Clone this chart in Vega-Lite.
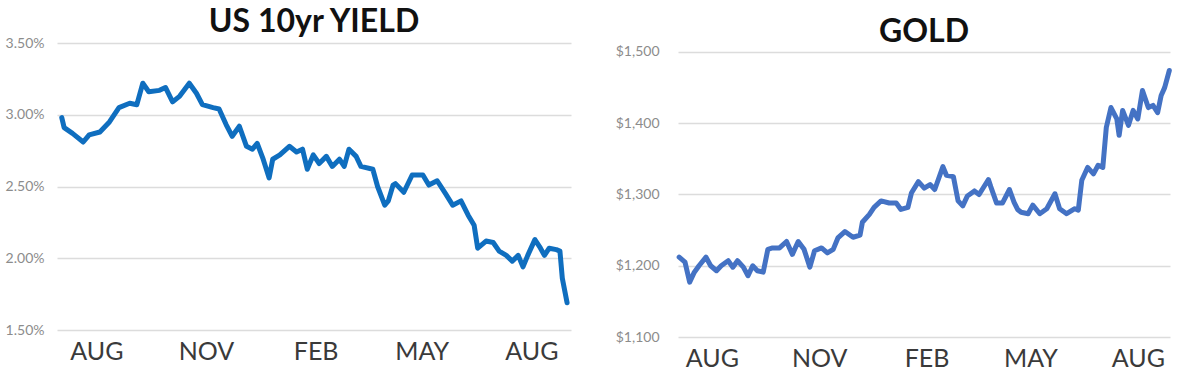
{
  "$schema": "https://vega.github.io/schema/vega-lite/v6.json",
  "background": "white",
  "padding": {"left": 5, "top": 6, "right": 10, "bottom": 5},
  "spacing": 44,
  "config": {
    "view": {"stroke": null},
    "title": {"font": "Lato", "fontWeight": "bold", "fontSize": 32, "color": "#111111", "anchor": "middle"},
    "axis": {"domain": false, "ticks": false, "title": null}
  },
  "datasets": {
    "yield": [
      {"date": "2018-07-03", "value": 2.98},
      {"date": "2018-07-05", "value": 2.91},
      {"date": "2018-07-12", "value": 2.87},
      {"date": "2018-07-21", "value": 2.81},
      {"date": "2018-07-26", "value": 2.86},
      {"date": "2018-08-04", "value": 2.88},
      {"date": "2018-08-12", "value": 2.95},
      {"date": "2018-08-20", "value": 3.05},
      {"date": "2018-08-29", "value": 3.08},
      {"date": "2018-09-04", "value": 3.07},
      {"date": "2018-09-09", "value": 3.22},
      {"date": "2018-09-14", "value": 3.16},
      {"date": "2018-09-23", "value": 3.17},
      {"date": "2018-09-28", "value": 3.19},
      {"date": "2018-10-04", "value": 3.09},
      {"date": "2018-10-10", "value": 3.13},
      {"date": "2018-10-18", "value": 3.22},
      {"date": "2018-10-24", "value": 3.15},
      {"date": "2018-10-29", "value": 3.07},
      {"date": "2018-11-07", "value": 3.05},
      {"date": "2018-11-12", "value": 3.04},
      {"date": "2018-11-18", "value": 2.93},
      {"date": "2018-11-23", "value": 2.85},
      {"date": "2018-11-29", "value": 2.92},
      {"date": "2018-12-05", "value": 2.78},
      {"date": "2018-12-10", "value": 2.76},
      {"date": "2018-12-14", "value": 2.80},
      {"date": "2018-12-19", "value": 2.69},
      {"date": "2018-12-24", "value": 2.56},
      {"date": "2018-12-27", "value": 2.69},
      {"date": "2019-01-02", "value": 2.72},
      {"date": "2019-01-10", "value": 2.78},
      {"date": "2019-01-16", "value": 2.74},
      {"date": "2019-01-21", "value": 2.76},
      {"date": "2019-01-25", "value": 2.62},
      {"date": "2019-01-30", "value": 2.72},
      {"date": "2019-02-04", "value": 2.66},
      {"date": "2019-02-10", "value": 2.71},
      {"date": "2019-02-15", "value": 2.64},
      {"date": "2019-02-21", "value": 2.69},
      {"date": "2019-02-25", "value": 2.64},
      {"date": "2019-03-01", "value": 2.76},
      {"date": "2019-03-07", "value": 2.71},
      {"date": "2019-03-11", "value": 2.64},
      {"date": "2019-03-21", "value": 2.62},
      {"date": "2019-03-25", "value": 2.50},
      {"date": "2019-03-31", "value": 2.37},
      {"date": "2019-04-03", "value": 2.40},
      {"date": "2019-04-07", "value": 2.51},
      {"date": "2019-04-09", "value": 2.52},
      {"date": "2019-04-16", "value": 2.46},
      {"date": "2019-04-23", "value": 2.58},
      {"date": "2019-05-02", "value": 2.58},
      {"date": "2019-05-07", "value": 2.51},
      {"date": "2019-05-14", "value": 2.54},
      {"date": "2019-05-21", "value": 2.45},
      {"date": "2019-05-27", "value": 2.37},
      {"date": "2019-06-03", "value": 2.40},
      {"date": "2019-06-09", "value": 2.30},
      {"date": "2019-06-14", "value": 2.23},
      {"date": "2019-06-17", "value": 2.07},
      {"date": "2019-06-24", "value": 2.12},
      {"date": "2019-06-30", "value": 2.11},
      {"date": "2019-07-05", "value": 2.05},
      {"date": "2019-07-11", "value": 2.02},
      {"date": "2019-07-16", "value": 1.98},
      {"date": "2019-07-21", "value": 2.02},
      {"date": "2019-07-25", "value": 1.94},
      {"date": "2019-07-29", "value": 2.02},
      {"date": "2019-08-04", "value": 2.13},
      {"date": "2019-08-08", "value": 2.08},
      {"date": "2019-08-12", "value": 2.02},
      {"date": "2019-08-16", "value": 2.07},
      {"date": "2019-08-22", "value": 2.06},
      {"date": "2019-08-25", "value": 2.05},
      {"date": "2019-08-27", "value": 1.86},
      {"date": "2019-08-31", "value": 1.69}
    ],
    "gold": [
      {"date": "2018-07-04", "value": 1212},
      {"date": "2018-07-09", "value": 1205},
      {"date": "2018-07-13", "value": 1177},
      {"date": "2018-07-17", "value": 1191},
      {"date": "2018-07-21", "value": 1200},
      {"date": "2018-07-27", "value": 1212},
      {"date": "2018-07-31", "value": 1200},
      {"date": "2018-08-05", "value": 1193},
      {"date": "2018-08-09", "value": 1200},
      {"date": "2018-08-15", "value": 1207},
      {"date": "2018-08-19", "value": 1198},
      {"date": "2018-08-23", "value": 1207},
      {"date": "2018-08-28", "value": 1198},
      {"date": "2018-09-01", "value": 1186},
      {"date": "2018-09-05", "value": 1200},
      {"date": "2018-09-09", "value": 1193},
      {"date": "2018-09-14", "value": 1191},
      {"date": "2018-09-18", "value": 1223},
      {"date": "2018-09-22", "value": 1225},
      {"date": "2018-09-28", "value": 1225},
      {"date": "2018-10-04", "value": 1234},
      {"date": "2018-10-09", "value": 1216},
      {"date": "2018-10-14", "value": 1234},
      {"date": "2018-10-19", "value": 1223},
      {"date": "2018-10-24", "value": 1198},
      {"date": "2018-10-28", "value": 1221},
      {"date": "2018-11-03", "value": 1225},
      {"date": "2018-11-08", "value": 1218},
      {"date": "2018-11-13", "value": 1223},
      {"date": "2018-11-17", "value": 1239},
      {"date": "2018-11-23", "value": 1248},
      {"date": "2018-11-30", "value": 1240},
      {"date": "2018-12-06", "value": 1243},
      {"date": "2018-12-08", "value": 1261},
      {"date": "2018-12-14", "value": 1272},
      {"date": "2018-12-18", "value": 1282},
      {"date": "2018-12-24", "value": 1291},
      {"date": "2018-12-31", "value": 1288},
      {"date": "2019-01-06", "value": 1288},
      {"date": "2019-01-10", "value": 1279},
      {"date": "2019-01-16", "value": 1282},
      {"date": "2019-01-19", "value": 1302},
      {"date": "2019-01-25", "value": 1318},
      {"date": "2019-01-30", "value": 1309},
      {"date": "2019-02-04", "value": 1314},
      {"date": "2019-02-08", "value": 1307},
      {"date": "2019-02-15", "value": 1339},
      {"date": "2019-02-18", "value": 1327},
      {"date": "2019-02-24", "value": 1325},
      {"date": "2019-02-28", "value": 1291},
      {"date": "2019-03-04", "value": 1284},
      {"date": "2019-03-08", "value": 1298},
      {"date": "2019-03-14", "value": 1305},
      {"date": "2019-03-18", "value": 1300},
      {"date": "2019-03-26", "value": 1321},
      {"date": "2019-03-28", "value": 1311},
      {"date": "2019-04-02", "value": 1288},
      {"date": "2019-04-07", "value": 1288},
      {"date": "2019-04-13", "value": 1307},
      {"date": "2019-04-17", "value": 1289},
      {"date": "2019-04-20", "value": 1279},
      {"date": "2019-04-23", "value": 1275},
      {"date": "2019-04-29", "value": 1273},
      {"date": "2019-05-03", "value": 1285},
      {"date": "2019-05-09", "value": 1273},
      {"date": "2019-05-15", "value": 1280},
      {"date": "2019-05-22", "value": 1301},
      {"date": "2019-05-26", "value": 1280},
      {"date": "2019-06-01", "value": 1273},
      {"date": "2019-06-08", "value": 1280},
      {"date": "2019-06-11", "value": 1278},
      {"date": "2019-06-14", "value": 1320},
      {"date": "2019-06-19", "value": 1338},
      {"date": "2019-06-24", "value": 1329},
      {"date": "2019-06-28", "value": 1341},
      {"date": "2019-07-02", "value": 1338},
      {"date": "2019-07-05", "value": 1394},
      {"date": "2019-07-09", "value": 1422},
      {"date": "2019-07-14", "value": 1406},
      {"date": "2019-07-16", "value": 1383},
      {"date": "2019-07-19", "value": 1418},
      {"date": "2019-07-24", "value": 1397},
      {"date": "2019-07-28", "value": 1418},
      {"date": "2019-08-01", "value": 1406},
      {"date": "2019-08-05", "value": 1446},
      {"date": "2019-08-10", "value": 1422},
      {"date": "2019-08-14", "value": 1425},
      {"date": "2019-08-18", "value": 1415},
      {"date": "2019-08-21", "value": 1439},
      {"date": "2019-08-24", "value": 1450},
      {"date": "2019-08-28", "value": 1474}
    ]
  },
  "hconcat": [
    {
      "data": {"name": "yield"},
      "width": 514,
      "height": 287,
      "title": {"text": "US 10yr YIELD", "offset": -3},
      "mark": {"type": "line", "color": "#0f6ebf", "strokeWidth": 5, "strokeJoin": "round", "strokeCap": "round"},
      "encoding": {
        "x": {
          "field": "date", "type": "temporal",
          "scale": {"domain": [{"year": 2018, "month": 6, "date": 29}, {"year": 2019, "month": 9, "date": 3, "hours": 7}]},
          "axis": {
            "values": [{"year": 2018, "month": 8, "date": 1}, {"year": 2018, "month": 11, "date": 1}, {"year": 2019, "month": 2, "date": 1}, {"year": 2019, "month": 5, "date": 1}, {"year": 2019, "month": 8, "date": 1}],
            "labelExpr": "upper(timeFormat(datum.value, '%b'))",
            "grid": false, "labelFont": "Lato", "labelFontSize": 25, "labelColor": "#3a3a3a", "labelPadding": 9, "labelFlush": false
          }
        },
        "y": {
          "field": "value", "type": "quantitative",
          "scale": {"domain": [1.5, 3.5], "nice": false, "zero": false},
          "axis": {
            "values": [1.5, 2, 2.5, 3, 3.5],
            "labelExpr": "format(datum.value, '.2f') + '%'",
            "grid": true, "gridColor": "#dcdcdc", "gridWidth": 1.5,
            "labelFont": "Lato", "labelFontSize": 14, "labelColor": "#8c8c8c", "labelPadding": 13
          }
        }
      }
    },
    {
      "data": {"name": "gold"},
      "width": 492,
      "height": 294,
      "title": {"text": "GOLD", "offset": -2, "dy": 4},
      "mark": {"type": "line", "color": "#4472c4", "strokeWidth": 5, "strokeJoin": "round", "strokeCap": "round"},
      "encoding": {
        "x": {
          "field": "date", "type": "temporal",
          "scale": {"domain": [{"year": 2018, "month": 7, "date": 3}, {"year": 2019, "month": 8, "date": 28, "hours": 14}]},
          "axis": {
            "values": [{"year": 2018, "month": 8, "date": 1}, {"year": 2018, "month": 11, "date": 1}, {"year": 2019, "month": 2, "date": 1}, {"year": 2019, "month": 5, "date": 1}, {"year": 2019, "month": 8, "date": 1}],
            "labelExpr": "upper(timeFormat(datum.value, '%b'))",
            "grid": false, "labelFont": "Lato", "labelFontSize": 25, "labelColor": "#3a3a3a", "labelPadding": 9, "labelFlush": false
          }
        },
        "y": {
          "field": "value", "type": "quantitative",
          "scale": {"domain": [1100, 1512.6], "nice": false, "zero": false},
          "axis": {
            "values": [1100, 1200, 1300, 1400, 1500],
            "labelExpr": "'$' + format(datum.value, ',')",
            "grid": true, "gridColor": "#dcdcdc", "gridWidth": 1.5,
            "labelFont": "Lato", "labelFontSize": 14, "labelColor": "#8c8c8c", "labelPadding": 19
          }
        }
      }
    }
  ]
}
